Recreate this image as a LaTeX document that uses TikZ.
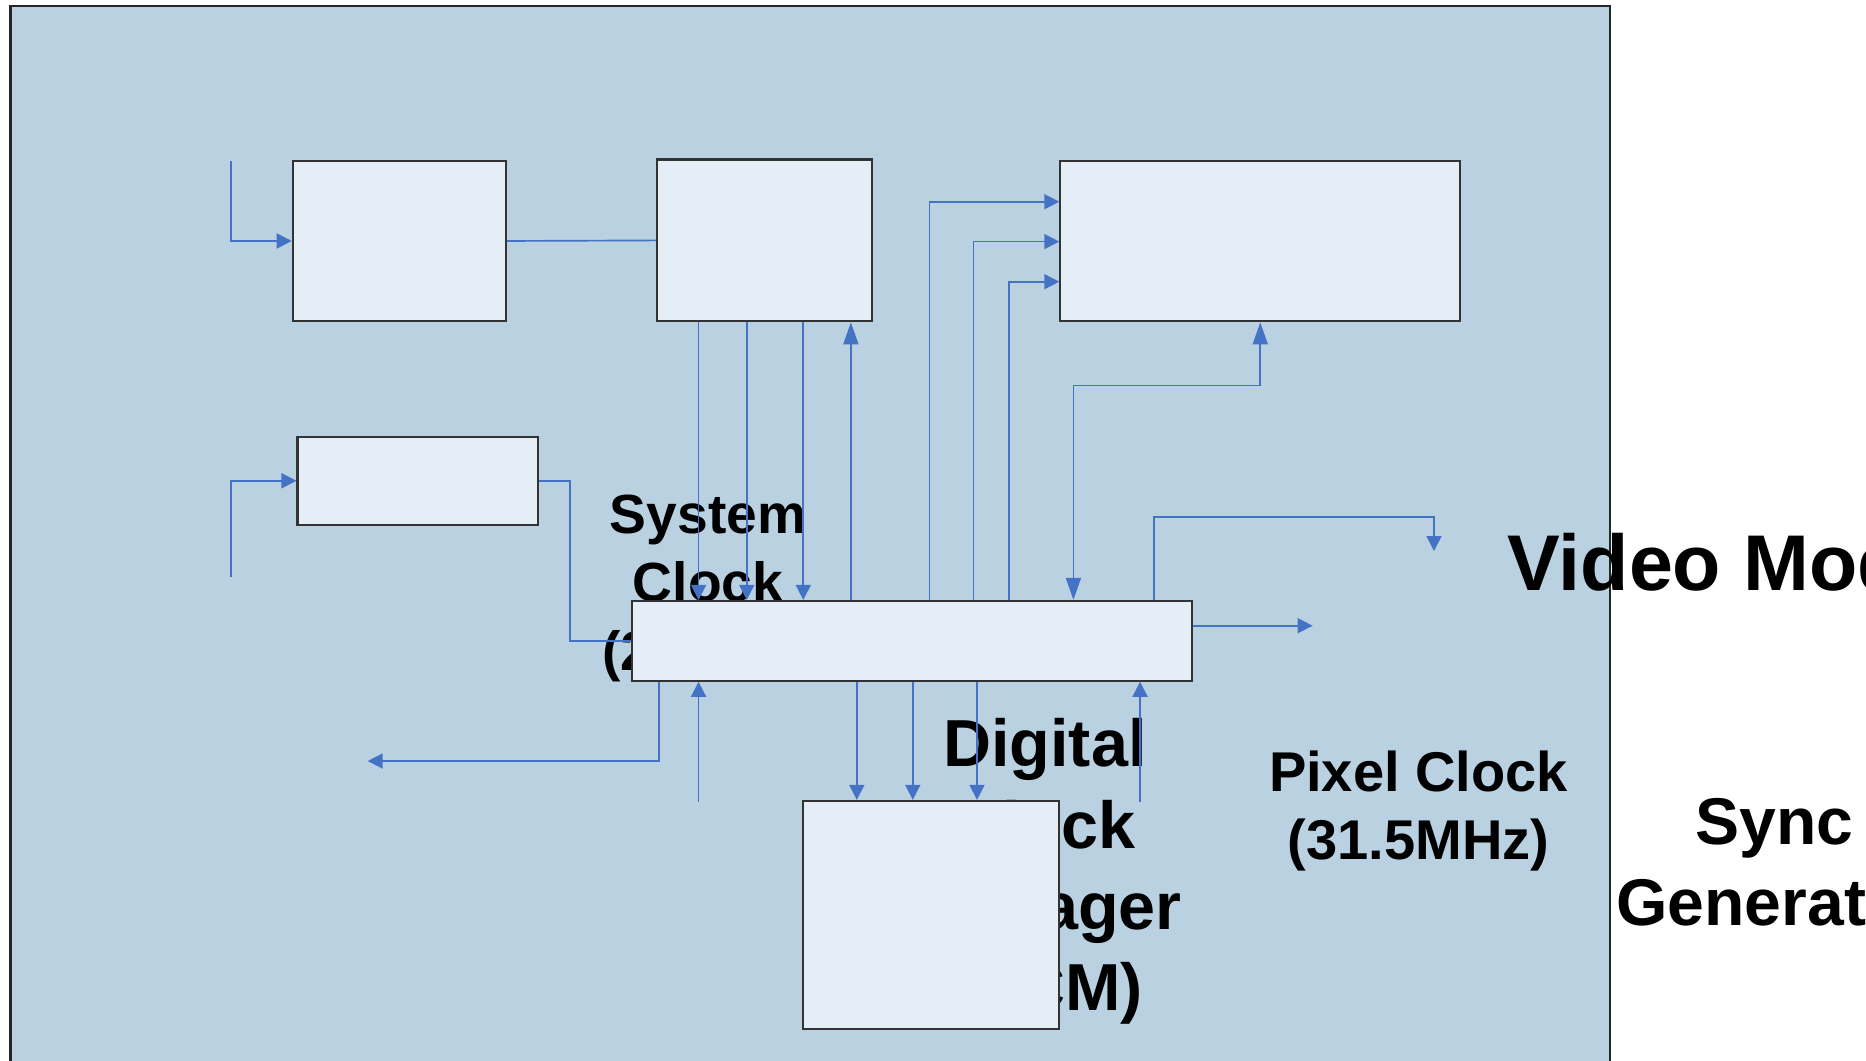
\documentclass[tikz,border=0pt]{standalone}
\usepackage{fontspec}
\setmainfont{Liberation Sans}
\usetikzlibrary{arrows.meta}
\definecolor{panel}{RGB}{185,209,224}
\definecolor{boxfill}{RGB}{229,237,246}
\definecolor{wirec}{RGB}{68,114,196}

\begin{document}
\begin{tikzpicture}[x=0.1mm,y=-0.1mm,
  blk/.style={rectangle, draw=black!80, line width=0.5pt, fill=boxfill, inner sep=0pt},
  wire/.style={draw=wirec, line width=0.4pt},
  arr/.style={wire, -{Triangle[length=1.26mm,width=1.26mm]}},
  larr/.style={wire, -{Triangle[length=1.85mm,width=1.26mm]}},
  lboth/.style={wire, {Triangle[length=1.85mm,width=1.26mm]}-{Triangle[length=1.85mm,width=1.26mm]}},
  lbl/.style={inner sep=0pt, align=center, anchor=base, text=black}
]
\useasboundingbox (0,0) rectangle (1568,891);
\fill[white] (0,0) rectangle (1568,891);
% panel behind the blocks
\draw[fill=panel, draw=black!85, line width=0.6pt] (9,5) rectangle (1353,905);

% labels (anchored at the baseline of their last line)
\node[lbl, font=\fontsize{13.2}{16.3}\selectfont\bfseries] (sysclk) at (595,563) {System\\Clock\\(27MHz)};
\node[lbl, font=\fontsize{15.9}{19.4}\selectfont\bfseries] (dcmtxt) at (878,849) {Digital\\Clock\\Manager\\(DCM)};
\node[lbl, font=\fontsize{13.4}{16.2}\selectfont\bfseries] (pixclk) at (1192,722) {Pixel Clock\\(31.5MHz)};
\node[lbl, font=\fontsize{15.8}{19.5}\selectfont\bfseries] (synctxt) at (1491,778) {Sync\\Generator};
\node[inner sep=0pt, anchor=base west, font=\fontsize{18.9}{22}\selectfont\bfseries] (vidtxt) at (1266,496) {Video Module};

% blocks
\node[blk, minimum width=17.9mm, minimum height=13.5mm] (A) at (335.5,202.5) {};
\node[blk, minimum width=18.1mm, minimum height=13.6mm] (B) at (642.5,202) {};
\node[blk, minimum width=33.6mm, minimum height=13.5mm] (C) at (1059,202.5) {};
\node[blk, minimum width=20.2mm, minimum height=7.4mm] (D) at (351,404) {};
\node[blk, minimum width=47.1mm, minimum height=6.7mm] (E) at (766.5,538.5) {};
\node[blk, minimum width=21.5mm, minimum height=19.2mm] (F) at (782.5,769) {};

% free ends
\coordinate (inA) at (194,135);
\coordinate (inD) at (194,485);
\coordinate (syncout) at (1205,463);
\coordinate (pixout) at (1103,525.8);
\coordinate (leftout) at (309,639.5);
\coordinate (clkin) at (587,673.6);
\coordinate (fbin) at (958,673.6);

% connectors
\draw[arr] (inA) |- (A.west);
\draw[wire] (A.east) -- (B.west);
\draw[arr] (inD) |- (D.west);
\draw[wire] (D.east) -- ++(26,0) |- (E.west);
\foreach \x in {587,627.5,675} \draw[arr] (B.south -| \x,0) -- (E.north -| \x,0);
\draw[larr] (E.north -| 715,0) -- (B.south -| 715,0);
\draw[arr] (E.north -| 781,0) |- (C.west |- 0,169.5);
\draw[arr] (E.north -| 818,0) |- (C.west |- 0,203);
\draw[arr] (E.north -| 848,0) |- (C.west |- 0,236.7);
\draw[lboth] (C.south) -- (C.south |- 0,324) -| (E.north -| 902,0);
\draw[arr] (E.north -| 969.5,0) |- (syncout |- 0,434.5) -- (syncout);
\draw[arr] (E.east |- 0,525.8) -- (pixout);
\draw[arr] (E.south -| 553.5,0) |- (leftout);
\draw[arr] (clkin) -- (E.south -| clkin);
\foreach \x in {720,767,821} \draw[arr] (E.south -| \x,0) -- (F.north -| \x,0);
\draw[arr] (fbin) -- (E.south -| fbin);
\end{tikzpicture}
\end{document}
